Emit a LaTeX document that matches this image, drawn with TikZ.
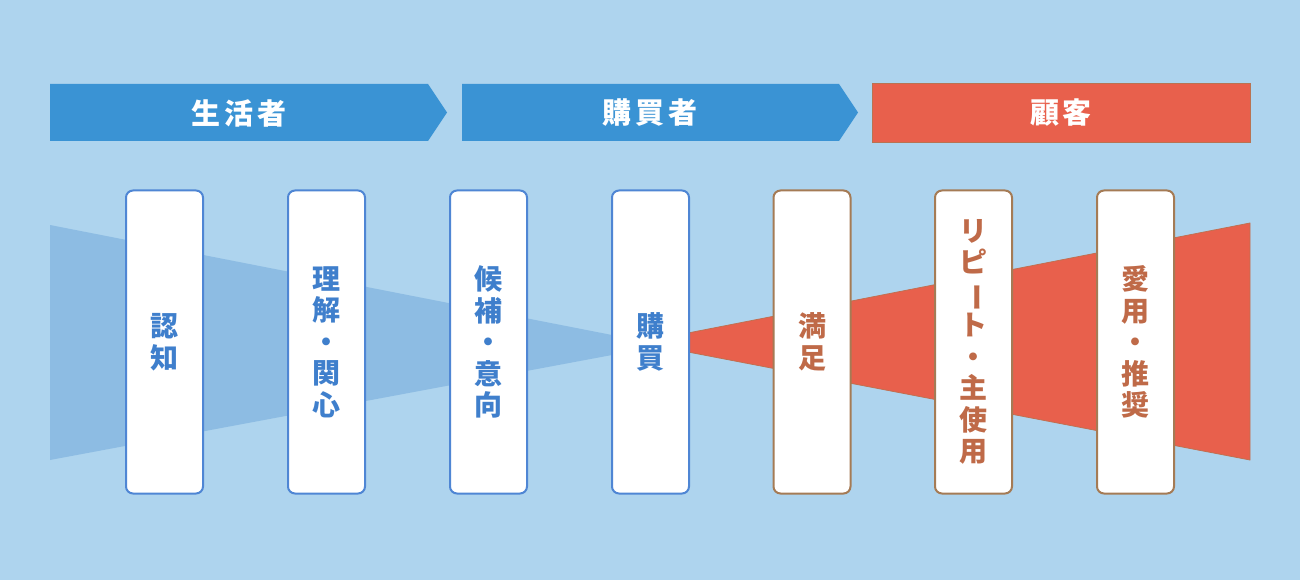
\documentclass[tikz,border=0pt]{standalone}
\usepackage{fontspec}
\newfontfamily\jp{Noto Sans CJK JP}
\definecolor{bg}{HTML}{AED4EE}
\definecolor{bannerblue}{HTML}{3A93D4}
\definecolor{funnelblue}{HTML}{8DBCE3}
\definecolor{redfill}{HTML}{E8604C}
\definecolor{blueedge}{HTML}{4F86D4}
\definecolor{bluetext}{HTML}{3F7FCC}
\definecolor{rededge}{HTML}{A57B55}
\definecolor{redtext}{HTML}{BF6A48}
\tikzset{
  stagebox/.style={draw, line width=2pt, fill=white, rounded corners=7pt,
    minimum width=77pt, minimum height=303pt, inner sep=0pt, align=center,
    font=\jp\bfseries\fontsize{28}{31.5}\selectfont},
  bluebox/.style={stagebox, draw=blueedge, text=bluetext},
  redbox/.style={stagebox, draw=rededge, text=redtext},
  bannertext/.style={text=white, font=\jp\bfseries\fontsize{29}{32}\selectfont}
}
\newcommand{\vbar}{\rotatebox[origin=c]{-90}{ー}}
\begin{document}
\begin{tikzpicture}[x=1pt,y=-1pt]
\fill[bg] (0,0) rectangle (1300,580);
\useasboundingbox (0,0) rectangle (1300,580);
% banners
\fill[bannerblue] (50,84) -- (428,84) -- (447,112.5) -- (428,141) -- (50,141) -- cycle;
\fill[bannerblue] (462,84) -- (839,84) -- (858,112.5) -- (839,141) -- (462,141) -- cycle;
\filldraw[fill=redfill, draw=rededge!70!redfill, line width=0.8pt] (872,83) rectangle (1250,142);
\node[bannertext] (b1) at (239,113) {生\hspace{4pt}活\hspace{4pt}者};
\node[bannertext] (b2) at (650,113) {購\hspace{4pt}買\hspace{4pt}者};
\node[bannertext] (b3) at (1061,113) {顧\hspace{4pt}客};
% funnels
\fill[funnelblue] (50,225) -- (612,335) -- (612,355) -- (50,460) -- cycle;
\filldraw[fill=redfill, draw=rededge!60!redfill, line width=0.8pt, line join=miter] (688,333) -- (1250,223) -- (1250,460) -- (688,352) -- cycle;
% boxes
\node[bluebox] (s1) at (164.5,342) {認\\知};
\node[bluebox] (s2) at (326.5,342) {理\\解\\・\\関\\心};
\node[bluebox] (s3) at (488.5,342) {候\\補\\・\\意\\向};
\node[bluebox] (s4) at (650.5,342) {購\\買};
\node[redbox] (s5) at (812,342) {満\\足};
\node[redbox] (s6) at (973.5,342) {リ\\ピ\\\vbar\\ト\\・\\主\\使\\用};
\node[redbox] (s7) at (1135.5,342) {愛\\用\\・\\推\\奨};
\end{tikzpicture}
\end{document}
